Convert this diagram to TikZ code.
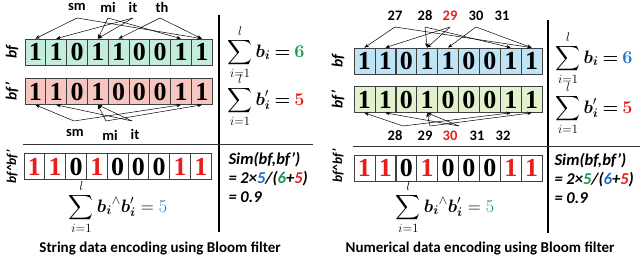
\RequirePackage{fix-cm}
\documentclass[tikz,border=0pt]{standalone}
\usepackage{amsmath,bm}
\usepackage{fontspec}
\setmainfont{Liberation Serif}
\newfontfamily\carl{Carlito}
\usetikzlibrary{arrows.meta}
\definecolor{mint}{RGB}{197,237,220}
\definecolor{pinkc}{RGB}{246,198,192}
\definecolor{skyc}{RGB}{190,228,245}
\definecolor{limec}{RGB}{228,241,206}
\definecolor{redt}{RGB}{232,30,30}
\definecolor{greent}{RGB}{20,150,80}
\definecolor{bluet}{RGB}{30,110,200}
\begin{document}
\begin{tikzpicture}[x=1pt,y=-1pt,
  cell/.style={draw=black!75, line width=0.7pt, minimum width=20.8pt, minimum height=26pt, inner sep=0pt,
    font=\fontsize{26}{26}\selectfont\bfseries},
  arr/.style={-{Stealth[length=4.5pt,width=3.5pt]}, line width=0.5pt},
  itemlab/.style={font=\carl\bfseries\fontsize{14.5}{14.5}\selectfont, inner sep=1pt},
  rowlab/.style={rotate=90, font=\carl\bfseries\itshape\fontsize{15.5}{15.5}\selectfont},
  andlab/.style={rotate=90, font=\carl\bfseries\itshape\fontsize{13.5}{13.5}\selectfont},
  sumlab/.style={font=\fontsize{18}{18}\selectfont, inner sep=0pt},
  simlab/.style={anchor=west, align=left, font=\carl\bfseries\itshape\fontsize{16.5}{19}\selectfont},
  caplab/.style={font=\carl\bfseries\fontsize{15}{15}\selectfont},
  sepv/.style={line width=1.6pt},
  seph/.style={line width=0.9pt, black!80}]
\useasboundingbox (0,0) rectangle (640,256);

% ================= LEFT PANEL =================
\foreach \d [count=\i] in {1,1,0,1,1,0,0,1,1}
  \node[cell, fill=mint] (Lb\i) at ({25+20.8*(\i-0.5)},52) {\d};
\foreach \d [count=\i] in {1,1,0,1,0,0,0,1,1}
  \node[cell, fill=pinkc] (Lp\i) at ({25+20.8*(\i-0.5)},91.5) {\d};
\foreach \d/\c [count=\i] in {1/redt,1/redt,0/black,1/redt,0/black,0/black,0/black,1/redt,1/redt}
  \node[cell, fill=white, text=\c] (La\i) at ({24+20.8*(\i-0.5)},166.5) {\d};

\node[rowlab] (Lbfl) at (12,52) {bf};
\node[rowlab] (Lpfl) at (12,91.5) {bf’};
\node[andlab] (Lafl) at (12,166.5) {bf\textasciicircum bf’};

\node[itemlab] (Lsm) at (77,7) {sm};
\node[itemlab] (Lmi) at (108,7) {mi};
\node[itemlab] (Lit) at (133,7) {it};
\node[itemlab] (Lth) at (162,7) {th};
\coordinate (LsmA) at (77,18);
\coordinate (LmiA) at (108,18);
\coordinate (LitA) at (133,18);
\coordinate (LthA) at (160,18);
\draw[arr] (LsmA) -- (Lb1.north);
\draw[arr] (LsmA) -- (Lb9.north);
\draw[arr] (LmiA) -- (Lb4.north);
\draw[arr] (LmiA) -- (Lb8.north);
\draw[arr] (LitA) -- (Lb2.north);
\draw[arr] (LitA) -- (Lb4.north);
\draw[arr] (LthA) -- (Lb5.north);
\draw[arr] (LthA) -- (Lb9.north);

\node[itemlab] (Lsm2) at (75,133) {sm};
\node[itemlab] (Lmi2) at (110,135) {mi};
\node[itemlab] (Lit2) at (135,134) {it};
\coordinate (Lsm2A) at (74,121);
\coordinate (Lmi2A) at (106,121);
\coordinate (Lit2A) at (132,121);
\draw[arr] (Lsm2A) -- (Lp1.south);
\draw[arr] (Lsm2A) -- (Lp8.south);
\draw[arr] (Lmi2A) -- (Lp4.south);
\draw[arr] (Lmi2A) -- (Lp9.south);
\draw[arr] (Lit2A) -- (Lp2.south);
\draw[arr] (Lit2A) -- (Lp4.south);

\draw[sepv] (219,15) -- (219,232);
\draw[seph] (23,144) -- (313,144);

\node[sumlab] (LsumB) at (266,52) {$\displaystyle\sum_{i=1}^{l}\bm{b}_{\bm{i}} \mathbin{\bm{=}} \bm{\textcolor{greent}{6}}$};
\node[sumlab] (LsumP) at (266,100) {$\displaystyle\sum_{i=1}^{l}\bm{b}'_{\bm{i}} \mathbin{\bm{=}} \bm{\textcolor{redt}{5}}$};
\node[sumlab] (LsumA) at (118,207) {$\displaystyle\sum_{i=1}^{l}\bm{b}_{\bm{i}}{}^{\wedge}\bm{b}'_{\bm{i}} = \textcolor{bluet}{5}$};
\node[simlab] (Lsim) at (225,177) {Sim(bf,bf’)\\= 2×\textcolor{bluet}{5}/(\textcolor{greent}{6}+\textcolor{redt}{5})\\= 0.9};

\node[caplab] (Lcap) at (160,248) {String data encoding using Bloom filter};

% ================= RIGHT PANEL =================
\foreach \d [count=\i] in {1,1,0,1,1,0,0,1,1}
  \node[cell, fill=skyc] (Rb\i) at ({354+20.9*(\i-0.5)},61) {\d};
\foreach \d [count=\i] in {1,1,0,1,0,0,0,1,1}
  \node[cell, fill=limec] (Rp\i) at ({354+20.9*(\i-0.5)},99.5) {\d};
\foreach \d/\c [count=\i] in {1/redt,1/redt,0/black,1/redt,0/black,0/black,0/black,1/redt,1/redt}
  \node[cell, fill=white, text=\c] (Ra\i) at ({354+20.9*(\i-0.5)},168) {\d};

\node[rowlab] (Rbfl) at (338,61) {bf};
\node[rowlab] (Rpfl) at (338,99.5) {bf’};
\node[andlab] (Rafl) at (338,166) {bf\textasciicircum bf’};

\node[itemlab] (R27) at (395,16) {27};
\node[itemlab] (R28) at (425,16) {28};
\node[itemlab, text=redt] (R29) at (450,16) {29};
\node[itemlab] (R30) at (476,16) {30};
\node[itemlab] (R31) at (502,16) {31};
\coordinate (R27A) at (395,27);
\coordinate (R28A) at (425,27);
\coordinate (R29A) at (450,27);
\coordinate (R30A) at (476,27);
\draw[arr] (R27A) -- (Rb1.north);
\draw[arr] (R27A) -- (Rb9.north);
\draw[arr] (R28A) -- (Rb4.north);
\draw[arr] (R28A) -- (Rb8.north);
\draw[arr] (R29A) -- (Rb2.north);
\draw[arr] (R29A) -- (Rb4.north);
\draw[arr] (R30A) -- (Rb5.north);
\draw[arr] (R30A) -- (Rb9.north);

\node[itemlab] (S28) at (395,136) {28};
\node[itemlab] (S29) at (425,136) {29};
\node[itemlab, text=redt] (S30) at (450,136) {30};
\node[itemlab] (S31) at (477,136) {31};
\node[itemlab] (S32) at (503,136) {32};
\coordinate (S28A) at (403,126);
\coordinate (S29A) at (430,126);
\coordinate (S30A) at (459,126);
\draw[arr] (S28A) -- (Rp1.south);
\draw[arr] (S28A) -- (Rp8.south);
\draw[arr] (S29A) -- (Rp4.south);
\draw[arr] (S29A) -- (Rp9.south);
\draw[arr] (S30A) -- (Rp2.south);
\draw[arr] (S30A) -- (Rp4.south);

\draw[sepv] (548,20) -- (548,233);
\draw[seph] (353,146) -- (640,146);

\node[sumlab] (RsumB) at (594,58) {$\displaystyle\sum_{i=1}^{l}\bm{b}_{\bm{i}} \mathbin{\bm{=}} \bm{\textcolor{bluet}{6}}$};
\node[sumlab] (RsumP) at (594,108) {$\displaystyle\sum_{i=1}^{l}\bm{b}'_{\bm{i}} \mathbin{\bm{=}} \bm{\textcolor{redt}{5}}$};
\node[sumlab] (RsumA) at (445,207) {$\displaystyle\sum_{i=1}^{l}\bm{b}_{\bm{i}}{}^{\wedge}\bm{b}'_{\bm{i}} = \textcolor{greent}{5}$};
\node[simlab] (Rsim) at (551,178) {Sim(bf,bf’)\\= 2×\textcolor{greent}{5}/(\textcolor{bluet}{6}+\textcolor{redt}{5})\\= 0.9};

\node[caplab] (Rcap) at (480,248) {Numerical data encoding using Bloom filter};
\end{tikzpicture}
\end{document}
